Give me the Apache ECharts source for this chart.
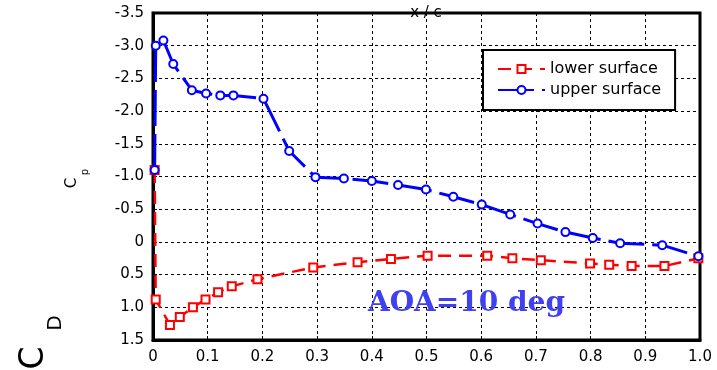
<!DOCTYPE html>
<html>
<head>
<meta charset="utf-8">
<script src="https://cdn.jsdelivr.net/npm/echarts@6/dist/echarts.min.js"></script>
<style>html,body{margin:0;padding:0;background:#fff}#c{width:717px;height:370px}</style>
</head>
<body>
<div id="c"></div>
<script>
// x/c positions and pressure coefficients
var upperX  = [0.003, 0.005, 0.019, 0.037, 0.071, 0.097, 0.123, 0.147, 0.202, 0.249, 0.297, 0.349, 0.400, 0.448, 0.499, 0.549, 0.601, 0.653, 0.703, 0.754, 0.804, 0.854, 0.931, 0.997];
var upperCp = [-1.10, -3.00, -3.08, -2.72, -2.32, -2.27, -2.24, -2.24, -2.19, -1.39, -0.99, -0.97, -0.93, -0.87, -0.80, -0.69, -0.57, -0.42, -0.28, -0.15, -0.06, 0.02, 0.05, 0.22];
var lowerX  = [0.003, 0.005, 0.031, 0.049, 0.073, 0.096, 0.119, 0.144, 0.191, 0.293, 0.374, 0.435, 0.502, 0.611, 0.657, 0.709, 0.799, 0.834, 0.875, 0.935, 0.997];
var lowerCp = [-1.10, 0.88, 1.27, 1.15, 1.00, 0.88, 0.77, 0.68, 0.57, 0.39, 0.31, 0.26, 0.21, 0.21, 0.25, 0.28, 0.33, 0.35, 0.37, 0.37, 0.25];
var seriesNames = ['lower surface', 'upper surface'];
var xTitle = 'x / c';
var aoaText = 'AOA=10 deg';

function pairs(xs, ys) { return xs.map(function (x, i) { return [x, ys[i]]; }); }
function fmt(v) { return v === 0 ? '0' : v.toFixed(1); }

var FONT = 'DejaVu Sans';
var chart = echarts.init(document.getElementById('c'), null, { renderer: 'canvas' });
chart.setOption({
  animation: false,
  backgroundColor: '#fff',
  grid: { left: 153, right: 17, top: 13, bottom: 30, show: true, borderColor: '#000', borderWidth: 3, backgroundColor: 'transparent' },
  xAxis: {
    type: 'value', min: 0, max: 1, interval: 0.1,
    axisLine: { show: true, onZero: false, lineStyle: { color: '#000', width: 3 } },
    axisTick: { show: true, inside: true, length: 4, lineStyle: { color: '#000' } },
    axisLabel: { formatter: fmt, color: '#000', fontFamily: FONT, fontSize: 15, margin: 10 },
    splitLine: { show: true, lineStyle: { color: '#000', type: [3, 3], width: 1 } }
  },
  yAxis: {
    type: 'value', inverse: true, min: -3.5, max: 1.5, interval: 0.5,
    axisLine: { show: true, onZero: false, lineStyle: { color: '#000', width: 3 } },
    axisTick: { show: true, inside: true, length: 4, lineStyle: { color: '#000' } },
    axisLabel: { formatter: fmt, color: '#000', fontFamily: FONT, fontSize: 15, margin: 9 },
    splitLine: { show: true, lineStyle: { color: '#000', type: [3, 3], width: 1 } }
  },
  legend: {
    left: 483, top: 50, orient: 'vertical',
    backgroundColor: '#fff', borderColor: '#000', borderWidth: 2,
    padding: [11, 14, 12, 14], itemGap: 5, itemWidth: 47, itemHeight: 10,
    textStyle: { fontFamily: FONT, fontSize: 16, color: '#000' },
    data: seriesNames
  },
  series: [
    {
      name: seriesNames[0], type: 'line', data: pairs(lowerX, lowerCp), silent: true,
      symbol: 'rect', symbolSize: 8,
      itemStyle: { color: '#fff', borderColor: '#ff0000', borderWidth: 2 },
      lineStyle: { color: '#ff0000', width: 2.5, type: [13, 8] },
      z: 3
    },
    {
      name: seriesNames[1], type: 'line', data: pairs(upperX, upperCp), silent: true,
      symbol: 'circle', symbolSize: 8,
      itemStyle: { color: '#fff', borderColor: '#0000ff', borderWidth: 2 },
      lineStyle: { color: '#0000ff', width: 3, type: [36, 8] },
      z: 4
    }
  ],
  graphic: { elements: [
    { type: 'text', x: 426, y: 13, silent: true, style: { text: xTitle, font: '15px "DejaVu Sans"', fill: '#000', align: 'center', verticalAlign: 'middle' } },
    { type: 'group', x: 72, y: 183, rotation: Math.PI / 2, silent: true, children: [
      { type: 'text', x: 0, y: 0, style: { text: 'C', font: '15px "DejaVu Sans"', fill: '#000', align: 'center', verticalAlign: 'middle' } },
      { type: 'text', x: 11, y: 13, style: { text: 'p', font: '10px "DejaVu Sans"', fill: '#000', align: 'center', verticalAlign: 'middle' } }
    ] },
    { type: 'group', x: 34, y: 358, rotation: Math.PI / 2, silent: true, children: [
      { type: 'text', x: 0, y: 0, style: { text: 'C', font: '33px "DejaVu Sans"', fill: '#000', align: 'center', verticalAlign: 'middle' } },
      { type: 'text', x: 35, y: 22, style: { text: 'D', font: '20px "DejaVu Sans"', fill: '#000', align: 'center', verticalAlign: 'middle' } }
    ] },
    { type: 'text', x: 368, y: 290, silent: true, z: 10, style: { text: aoaText, font: 'bold 28px "DejaVu Serif"', fill: '#4040f0', shadowColor: 'rgba(0,0,0,0.45)', shadowBlur: 3, shadowOffsetX: 2, shadowOffsetY: 2 } }
  ] }
});
</script>
</body>
</html>
